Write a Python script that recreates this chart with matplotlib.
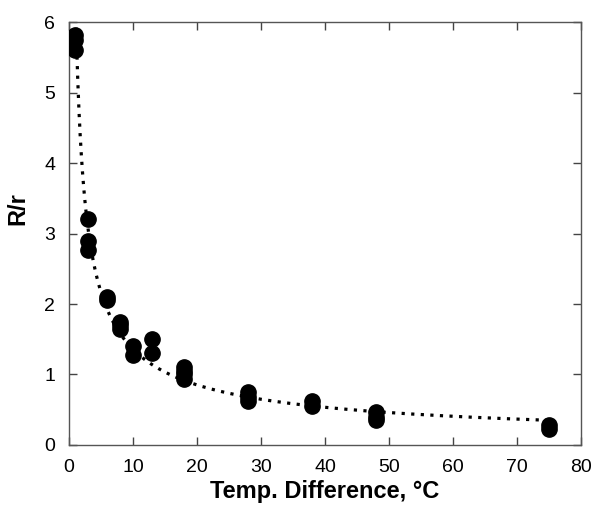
import numpy as np
import matplotlib.pyplot as plt

# ----------------------------------------------------------------------
# DATA
# ----------------------------------------------------------------------
temp_diff = [1, 1, 1, 3, 3, 3, 6, 6, 8, 8, 8, 10, 10, 13, 13,
             18, 18, 18, 18, 28, 28, 28, 38, 38, 48, 48, 48, 75, 75]
ratio = [5.82, 5.75, 5.6, 3.2, 2.9, 2.77, 2.1, 2.05, 1.75, 1.7, 1.65,
         1.4, 1.28, 1.5, 1.3, 1.1, 1.05, 1.0, 0.93, 0.75, 0.68, 0.62,
         0.63, 0.55, 0.47, 0.4, 0.35, 0.28, 0.22]

# power-law trend line R/r = a * dT^b (coefficients)
trend_a = 6.4
trend_b = -0.673

x_ticks = [0, 10, 20, 30, 40, 50, 60, 70, 80]
y_ticks = [0, 1, 2, 3, 4, 5, 6]

plt.rcParams["font.family"] = ["Liberation Sans", "DejaVu Sans"]

x_fit = np.linspace(1.0, max(temp_diff), 400)
y_fit = trend_a * x_fit ** trend_b

fig = plt.figure(figsize=(6.02, 5.15), dpi=100)
ax = fig.add_axes([0.1146, 0.136, 0.8504, 0.821])

ax.plot(x_fit, y_fit, color="black", linewidth=2.3,
        linestyle=(0, (1.0, 2.0)), zorder=2)
ax.plot(temp_diff, ratio, "o", color="black", markersize=11,
        linestyle="none", zorder=3)

ax.set_xlim(0, 80)
ax.set_ylim(0, 6)
ax.set_xticks(x_ticks)
ax.set_yticks(y_ticks)
ax.tick_params(direction="in", length=6, width=1, colors="#444444",
               labelcolor="black", labelsize=14, top=True, right=True)
ax.tick_params(axis="x", pad=10)
ax.tick_params(axis="y", pad=10)
for s in ax.spines.values():
    s.set_color("#555555")
    s.set_linewidth(1)

ax.set_xlabel("Temp. Difference, \u00b0C", fontsize=17, fontweight="bold",
              labelpad=3)
ax.set_ylabel("R/r", fontsize=17, fontweight="bold")
ax.yaxis.set_label_coords(-0.078, 0.56)

fig.savefig("out.png", dpi=100)
